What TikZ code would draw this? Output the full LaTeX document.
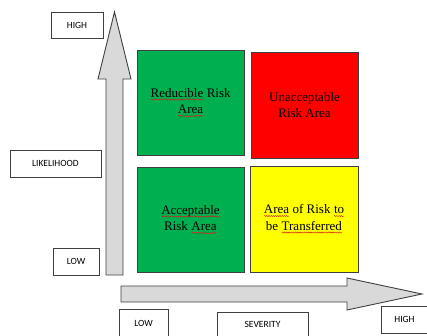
\documentclass[tikz,border=0pt]{standalone}
\usepackage{fontspec}
\setmainfont{Liberation Serif}
\newfontfamily\labelfont{Carlito}
\usetikzlibrary{decorations.pathmorphing}

\definecolor{riskgreen}{HTML}{00B050}
\definecolor{riskred}{HTML}{FF0000}
\definecolor{riskyellow}{HTML}{FFFF00}
\definecolor{arrowfill}{HTML}{D9D9D9}
\definecolor{edgegray}{HTML}{404040}
\definecolor{squigred}{HTML}{D02020}

% word with a red wavy proofing underline
\newcommand{\squig}[1]{\tikz[baseline=(w.base), x=1pt, y=1pt]{%
  \node[inner sep=0pt, outer sep=0pt, minimum width=0pt, minimum height=0pt,
        draw=none, fill=none, shape=rectangle] (w) {#1};
  \draw[squigred, line width=0.45pt, decorate,
        decoration={snake, amplitude=0.55pt, segment length=2.2pt}]
    ([yshift=-2.2pt]w.base west) -- ([yshift=-2.2pt]w.base east);}}

\tikzset{
  axislabel/.style={draw=edgegray, line width=0.8pt, fill=white,
    font=\labelfont\fontsize{9.5}{11}\selectfont, inner sep=0pt, align=center},
  quadrant/.style={draw=edgegray, line width=0.8pt, inner sep=0pt,
    font=\fontsize{13}{16.5}\selectfont, align=center, text=black},
  bigarrow/.style={draw=edgegray, line width=0.9pt, fill=arrowfill, line join=miter}
}

\begin{document}
\begin{tikzpicture}[x=1pt, y=-1pt]
  \clip (0,0) rectangle (427,336);
  \fill[white] (0,0) rectangle (427,336);

  % likelihood axis arrow (pointing up)
  \draw[bigarrow] (106,275) -- (106,79) -- (98,79) -- (114.5,12) -- (131,79)
    -- (123,79) -- (123,275) -- cycle;

  % severity axis arrow (pointing right)
  \draw[bigarrow] (121,286) -- (347,286) -- (347,278) -- (422,294) -- (347,310)
    -- (347,302) -- (121,302) -- cycle;

  % risk quadrants
  \node[quadrant, fill=riskgreen, minimum width=107pt, minimum height=105pt]
    (reducible) at (190.5,102.5) {\squig{Reducible} Risk\\\squig{Area}};
  \node[quadrant, fill=riskred, minimum width=107pt, minimum height=106pt]
    (unacceptable) at (304.5,105) {Unacceptable\\Risk Area};
  \node[quadrant, fill=riskgreen, minimum width=107pt, minimum height=105pt]
    (acceptable) at (190.5,219.5) {\squig{Acceptable}\\Risk \squig{Area}};
  \node[quadrant, fill=riskyellow, minimum width=108pt, minimum height=106pt]
    (transfer) at (304,219) {\squig{Area} of Risk \squig{to}\\be \squig{Transferred}};

  % axis labels
  \node[axislabel, minimum width=52pt, minimum height=26pt]
    (likehigh) at (77,25) {HIGH};
  \node[axislabel, minimum width=91pt, minimum height=27pt]
    (likelihood) at (55.5,163.5) {LIKELIHOOD};
  \node[axislabel, minimum width=46pt, minimum height=27pt]
    (likelow) at (76,261.5) {LOW};
  \node[axislabel, minimum width=49pt, minimum height=30pt, anchor=north]
    (sevlow) at (143.5,309) {};
  \node[font=\labelfont\fontsize{9.5}{11}\selectfont] at (143.5,323.5) {LOW};
  \node[axislabel, minimum width=91pt, minimum height=30pt, anchor=north]
    (severity) at (262.5,312) {};
  \node[font=\labelfont\fontsize{9.5}{11}\selectfont] at (262.5,324.5) {SEVERITY};
  \node[axislabel, minimum width=47pt, minimum height=27pt]
    (sevhigh) at (404.5,319.5) {HIGH};
\end{tikzpicture}
\end{document}
